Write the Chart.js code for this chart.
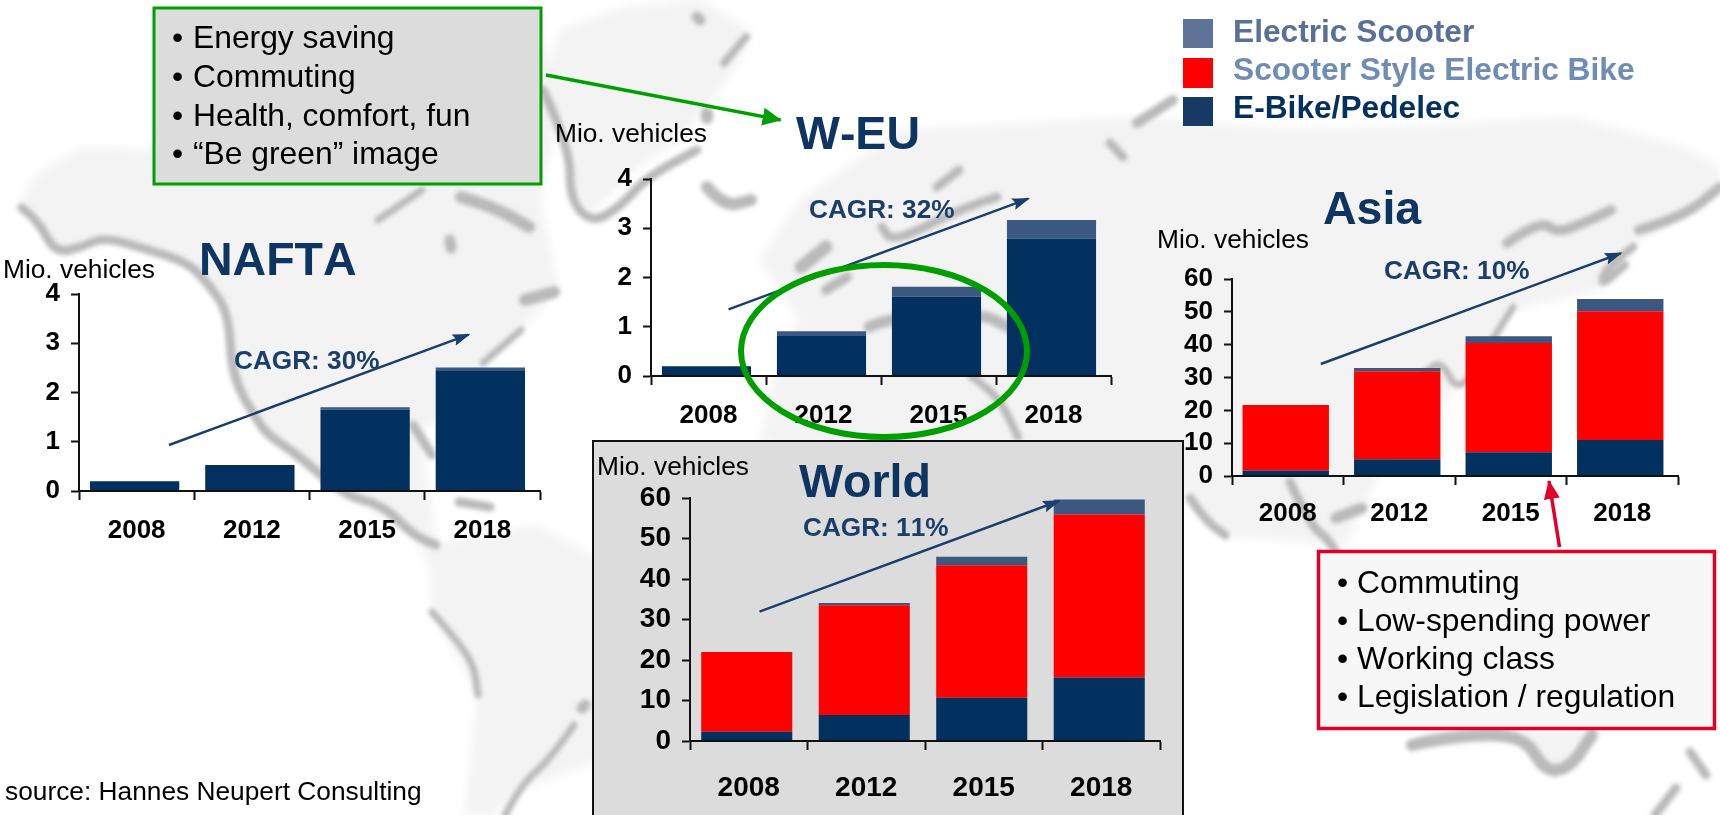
<!DOCTYPE html>
<html>
<head>
<meta charset="utf-8">
<title>Electric two-wheeler markets</title>
<script src="https://cdn.jsdelivr.net/npm/chart.js@4"></script>
<style>
html, body { margin: 0; padding: 0; width: 1720px; height: 815px; overflow: hidden; background: #fff; }
svg { position: absolute; left: 0; top: 0; }
svg text { font-family: "Liberation Sans", Arial, sans-serif; font-kerning: none; }
canvas { position: absolute; }
.head { font-size: 46.5px; font-weight: bold; fill: #0e3562; }
.unit { font-size: 26.3px; fill: #000; }
.cagr { font-size: 26.2px; font-weight: bold; fill: #1b3f6c; }
.note { font-size: 31.8px; fill: #000; }
.leg { font-size: 31.7px; font-weight: bold; }
#worldBox { position: absolute; left: 592px; top: 440px; width: 588px; height: 400px; background: #dcdcdc; border: 2px solid #111; }
</style>
</head>
<body>

<!-- world map backdrop -->
<svg id="map" width="1720" height="815">
  <defs>
    <filter id="soft" x="-30%" y="-30%" width="160%" height="160%"><feGaussianBlur stdDeviation="2.2"/></filter>
    <filter id="softer"><feGaussianBlur stdDeviation="5"/></filter>
  </defs>
  <g fill="#f3f3f3" filter="url(#softer)">
    <path d="M19 208 L35 175 L82 148 L150 150 L200 60 L540 30 L560 100 L540 200 L558 290 L521 330 L483 365 L440 420 L420 430 L436 545 L536 525 L600 560 L600 760 L520 790 L495 815 L465 815 L478 695 L432 612 L430 565 L413 535 L344 495 L268 435 L232 377 L229 313 L187 262 L104 237 L55 253 L38 220 Z"/>
    <path d="M560 30 L620 8 L700 0 L751 30 L740 60 L705 110 L680 140 L640 165 L590 215 L570 190 L570 145 L545 90 Z"/>
    <path d="M760 260 L800 200 L900 130 L1000 125 L1134 117 L1290 130 L1408 127 L1573 117 L1683 147 L1720 167 L1720 190 L1640 240 L1600 290 L1510 310 L1470 370 L1445 400 L1400 430 L1345 545 L1225 535 L1182 490 L1100 445 L760 445 L780 350 L800 320 Z"/>
    <path d="M1412 745 L1430 728 L1600 728 L1570 768 L1545 772 L1524 738 Z"/>
  </g>
  <g id="coast" fill="none" stroke="#bababa" stroke-width="9" stroke-linecap="round" stroke-linejoin="round" filter="url(#soft)">
    <path d="M22 208 L38 220 L55 253 L82 247 L104 237 L143 248 L187 262 L207 282 L229 313 L232 377 L257 420 L268 435 L298 455 L344 495 L383 505 L413 535 L436 545"/>
    <path d="M413 425 L432 455"/>
    <path d="M459 502 L490 507"/>
    <path d="M432 612 L455 638 L474 665 L478 695" stroke-width="7"/>
    <path d="M574 725 L551 758 L524 782 L505 815" stroke-width="7"/>
    <path d="M585 705 L582 708" stroke-width="11"/>
    <path d="M525 300 L554 292" stroke-width="12"/>
    <path d="M521 330 L483 363" stroke-width="7"/>
    <path d="M450 240 L451 248" stroke-width="11"/>
    <path d="M378 220 L400 205 L422 190" stroke-width="7"/>
    <path d="M461 197 L494 207 L529 227" stroke-width="12"/>
    <path d="M697 17 L700 20" stroke-width="11"/>
    <path d="M746 37 L724 63" stroke-width="8"/>
    <path d="M543 90 L570 147 L570 200 L592 223 L620 207 L647 177 L697 150" stroke-width="9"/>
    <path d="M707 113 L707 118" stroke-width="12"/>
    <path d="M707 187 L724 207 L751 200" stroke-width="12"/>
    <path d="M1137 123 L1173 100" stroke-width="10"/>
    <path d="M1110 143 L1123 157" stroke-width="9"/>
    <path d="M959 170 L937 187" stroke-width="9"/>
    <path d="M997 197 L964 207 L893 243 L882 227" stroke-width="9"/>
    <path d="M801 267 L826 247" stroke-width="13"/>
    <path d="M826 290 L847 277" stroke-width="10"/>
    <path d="M869 327 L890 317 L981 313 L1008 327" stroke-width="11"/>
    <path d="M972 377 L997 393 L1018 437" stroke-width="8"/>
    <path d="M1507 243 L1540 220 L1557 233 L1584 223 L1611 210" stroke-width="10"/>
    <path d="M1639 230 L1683 217 L1720 187" stroke-width="10"/>
    <path d="M1633 247 L1606 267 L1600 287 L1625 265" stroke-width="8"/>
    <path d="M1513 307 L1480 360 L1458 393 L1441 360 L1425 373" stroke-width="7"/>
    <path d="M1190 498 L1205 520 L1225 535" stroke-width="9"/>
    <path d="M1290 482 L1310 525 L1327 538 L1336 552" stroke-width="9"/>
    <path d="M1336 518 L1362 508" stroke-width="11"/>
    <path d="M1412 745 L1456 735 L1524 735 L1545 772 L1570 768 L1592 735" stroke-width="12"/>
    <path d="M1690 752 L1706 775" stroke-width="9"/>
    <path d="M1676 788 L1655 815" stroke-width="9"/>
  </g>
</svg>

<canvas id="naftaChart"></canvas>
<canvas id="weuChart"></canvas>
<canvas id="asiaChart"></canvas>

<svg id="notes" width="1720" height="815">
  <defs>
    <marker id="headNavy" markerUnits="userSpaceOnUse" markerWidth="18" markerHeight="14" refX="16" refY="6" orient="auto"><path d="M0 0 L18 6 L0 12 L3 6 Z" fill="#1a3f6e"/></marker>
    <marker id="headGreen" markerUnits="userSpaceOnUse" markerWidth="20" markerHeight="20" refX="18" refY="9" orient="auto"><path d="M0 0 L19 9 L0 18 Z" fill="#009f00"/></marker>
    <marker id="headRed" markerUnits="userSpaceOnUse" markerWidth="20" markerHeight="20" refX="18" refY="8" orient="auto"><path d="M0 0 L19 8 L0 16 Z" fill="#e2002a"/></marker>
  </defs>

  <!-- legend -->
  <rect x="1183" y="19" width="30" height="29" fill="#5f7399"/>
  <rect x="1183" y="58" width="30" height="30" fill="#ff0000"/>
  <rect x="1183" y="97" width="30" height="29" fill="#163a63"/>
  <text class="leg" x="1233" y="41.7" fill="#5a7099">Electric Scooter</text>
  <text class="leg" x="1233" y="80" fill="#6f8cb5">Scooter Style Electric Bike</text>
  <text class="leg" x="1233" y="118.3" fill="#03315f">E-Bike/Pedelec</text>

  <!-- region labels -->
  <text class="head" x="199" y="275">NAFTA</text>
  <text class="unit" x="3" y="278">Mio. vehicles</text>
  <text class="cagr" x="234" y="369">CAGR: 30%</text>
  <line x1="169" y1="445" x2="468.6" y2="334.7" stroke="#1a3f6e" stroke-width="2.5" marker-end="url(#headNavy)"/>

  <text class="head" x="796" y="149">W-EU</text>
  <text class="unit" x="555" y="142">Mio. vehicles</text>
  <text class="cagr" x="809" y="218">CAGR: 32%</text>
  <line x1="728.6" y1="309.3" x2="1028.2" y2="198.7" stroke="#1a3f6e" stroke-width="2.5" marker-end="url(#headNavy)"/>

  <text class="head" x="1323" y="224">Asia</text>
  <text class="unit" x="1157" y="248">Mio. vehicles</text>
  <text class="cagr" x="1384" y="278.7">CAGR: 10%</text>
  <line x1="1320.8" y1="364" x2="1620.7" y2="253.3" stroke="#1a3f6e" stroke-width="2.5" marker-end="url(#headNavy)"/>

  <!-- green callout -->
  <ellipse cx="884" cy="351" rx="143" ry="86" fill="none" stroke="#009f00" stroke-width="6"/>
  <rect x="154" y="8" width="387" height="176" fill="#dcdcdc" stroke="#009f00" stroke-width="3"/>
  <text class="note" x="172" y="48.3">•</text><text class="note" x="193" y="48.3">Energy saving</text>
  <text class="note" x="172" y="87">•</text><text class="note" x="193" y="87">Commuting</text>
  <text class="note" x="172" y="125.5">•</text><text class="note" x="193" y="125.5">Health, comfort, fun</text>
  <text class="note" x="172" y="164">•</text><text class="note" x="193" y="164">“Be green” image</text>
  <line x1="546" y1="75" x2="780.6" y2="120" stroke="#009f00" stroke-width="3.5" marker-end="url(#headGreen)"/>

  <!-- red callout -->
  <rect x="1318.5" y="551.5" width="396" height="177" fill="#f7f7f7" stroke="#e2002a" stroke-width="3.5"/>
  <text class="note" x="1337" y="592.7">•</text><text class="note" x="1357" y="592.7">Commuting</text>
  <text class="note" x="1337" y="631">•</text><text class="note" x="1357" y="631">Low-spending power</text>
  <text class="note" x="1337" y="669">•</text><text class="note" x="1357" y="669">Working class</text>
  <text class="note" x="1337" y="707.3">•</text><text class="note" x="1357" y="707.3">Legislation / regulation</text>
  <line x1="1559.5" y1="547" x2="1549" y2="481" stroke="#e2002a" stroke-width="3.5" marker-end="url(#headRed)"/>

  <text class="unit" x="5" y="800">source: Hannes Neupert Consulting</text>
</svg>

<div id="worldBox"></div>
<canvas id="worldChart"></canvas>
<svg id="worldNotes" width="1720" height="815">
  <text class="head" x="799" y="496.7" style="font-size:46.6px">World</text>
  <text class="unit" x="597" y="475.3">Mio. vehicles</text>
  <text class="cagr" x="803" y="536">CAGR: 11%</text>
  <line x1="759.5" y1="611.7" x2="1058.8" y2="501" stroke="#1a3f6e" stroke-width="2.5" marker-end="url(#headNavy)"/>
</svg>

<script>
const years = ['2008', '2012', '2015', '2018'];

const naftaEbike = [0.2, 0.53, 1.65, 2.45];
const naftaBike = [0, 0, 0, 0];
const naftaScooter = [0, 0, 0.05, 0.06];

const weuEbike = [0.2, 0.81, 1.61, 2.79];
const weuBike = [0, 0, 0, 0];
const weuScooter = [0, 0.1, 0.2, 0.38];

const asiaEbike = [1.7, 5.1, 7.2, 11];
const asiaBike = [19.9, 26.8, 33.3, 39.2];
const asiaScooter = [0, 1, 2.1, 3.7];

const worldEbike = [2.3, 6.4, 10.7, 15.7];
const worldBike = [19.7, 27.1, 32.7, 40.2];
const worldScooter = [0, 0.6, 2.1, 3.7];

const smallTicks = [0, 1, 2, 3, 4];
const bigTicks = [0, 10, 20, 30, 40, 50, 60];

// round off the coast polylines
document.querySelectorAll('#coast path').forEach(function (path) {
    const pts = path.getAttribute('d').replace(/[ML]/g, '').trim().split(/\s+/).map(Number);
    let d = 'M' + pts[0] + ' ' + pts[1];
    for (let i = 2; i < pts.length - 2; i += 2) {
        d += ' Q' + pts[i] + ' ' + pts[i + 1] + ' ' + (pts[i] + pts[i + 2]) / 2 + ' ' + (pts[i + 1] + pts[i + 3]) / 2;
    }
    path.setAttribute('d', d + ' L' + pts[pts.length - 2] + ' ' + pts[pts.length - 1]);
});

// the bars in the picture sit a little left of the category centre
const nudgeBars = {
    id: 'nudgeBars',
    beforeDatasetsDraw: function (chart) { chart.ctx.save(); chart.ctx.translate(-2, 0); },
    afterDatasetsDraw: function (chart) { chart.ctx.restore(); }
};

function drawChart(id, ebike, bike, scooter, yTicks, area, fontSize, labelGap) {
    const gapLeft = 70, gapTop = 30, gapRight = 8, gapBottom = 65;
    const canvas = document.getElementById(id);
    canvas.width = area.right - area.left + gapLeft + gapRight;
    canvas.height = area.bottom - area.top + gapTop + gapBottom;
    canvas.style.left = (area.left - gapLeft) + 'px';
    canvas.style.top = (area.top - gapTop) + 'px';

    const tickFont = { family: 'Liberation Sans', weight: 'bold', size: fontSize };
    new Chart(canvas, {
        type: 'bar',
        plugins: [nudgeBars],
        data: {
            labels: years,
            datasets: [
                { label: 'E-Bike/Pedelec', data: ebike, backgroundColor: '#03315f' },
                { label: 'Scooter Style Electric Bike', data: bike, backgroundColor: '#ff0000' },
                { label: 'Electric Scooter', data: scooter, backgroundColor: '#3a5880' }
            ]
        },
        options: {
            responsive: false,
            animation: false,
            devicePixelRatio: 1,
            barPercentage: 0.775,
            categoryPercentage: 1,
            layout: { padding: { top: gapTop, right: gapRight } },
            plugins: { legend: { display: false }, tooltip: { enabled: false } },
            scales: {
                x: {
                    stacked: true,
                    offset: true,
                    grid: { offset: true, drawOnChartArea: false, tickLength: 9, tickColor: '#111', tickWidth: 2 },
                    border: { color: '#111', width: 2, z: 1 },
                    ticks: { color: '#000', font: tickFont, padding: labelGap, maxRotation: 0, autoSkip: false },
                    afterFit: function (scale) { scale.height = gapBottom; }
                },
                y: {
                    stacked: true,
                    min: yTicks[0],
                    max: yTicks[yTicks.length - 1],
                    grid: { drawOnChartArea: false, tickLength: 8, tickColor: '#111', tickWidth: 2 },
                    border: { color: '#111', width: 2, z: 1 },
                    ticks: { color: '#000', font: tickFont, padding: 11, stepSize: yTicks[1] - yTicks[0], autoSkip: false },
                    afterFit: function (scale) { scale.width = gapLeft; }
                }
            }
        }
    });
}

drawChart('naftaChart', naftaEbike, naftaBike, naftaScooter, smallTicks, { left: 79, right: 540, top: 294, bottom: 491 }, 26, 15);
drawChart('weuChart', weuEbike, weuBike, weuScooter, smallTicks, { left: 651, right: 1111, top: 179, bottom: 376 }, 26, 15);
drawChart('asiaChart', asiaEbike, asiaBike, asiaScooter, bigTicks, { left: 1232, right: 1678, top: 279, bottom: 476 }, 26, 13);
drawChart('worldChart', worldEbike, worldBike, worldScooter, bigTicks, { left: 690, right: 1160, top: 498, bottom: 741 }, 28, 21);
</script>
</body>
</html>
